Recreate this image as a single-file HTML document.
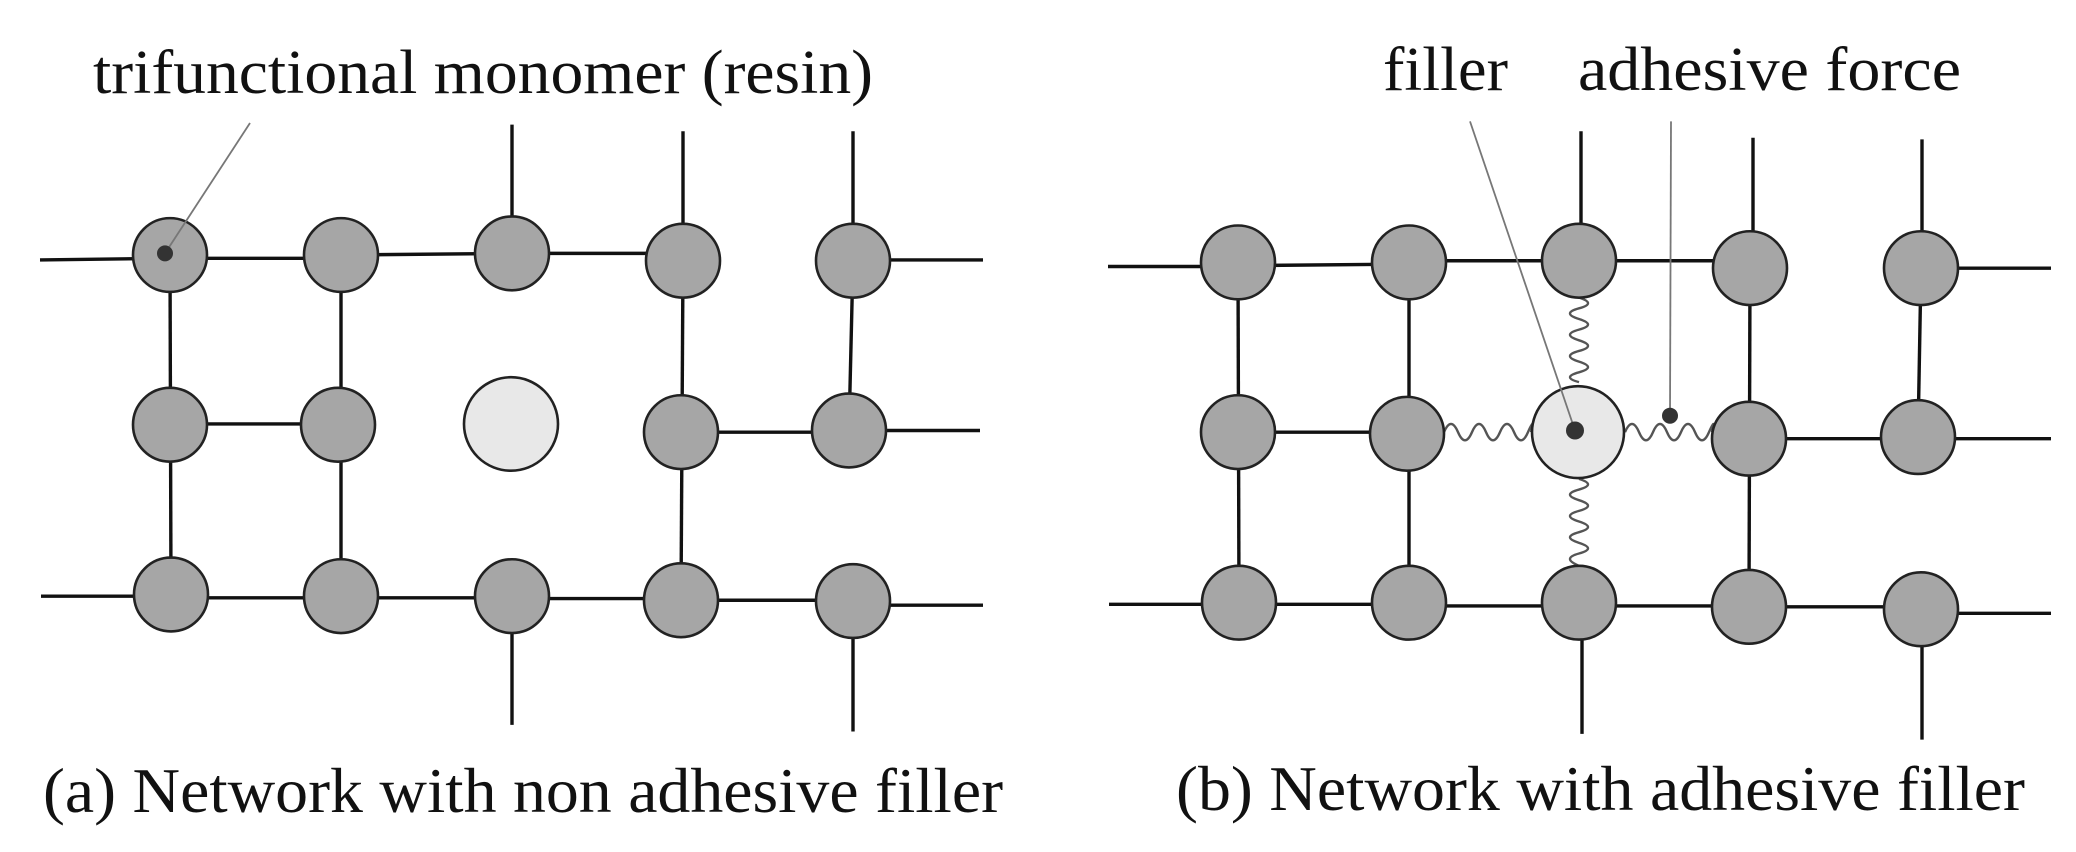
<!DOCTYPE html>
<html><head><meta charset="utf-8"><style>html,body{margin:0;padding:0;background:#fff;overflow:hidden}svg{display:block}.s *{vector-effect:non-scaling-stroke}</style></head>
<body>
<svg width="2076" height="852" viewBox="0 0 2076 852" xmlns="http://www.w3.org/2000/svg">
<g transform="scale(1,0.82)" class="s">
<g stroke="#111" stroke-width="3.4" fill="none">
<line x1="40" y1="317" x2="170" y2="315"/>
<line x1="170" y1="315" x2="341" y2="315"/>
<line x1="341" y1="311" x2="512" y2="309"/>
<line x1="512" y1="309" x2="683" y2="309"/>
<line x1="853" y1="317" x2="983" y2="317"/>
<line x1="512" y1="152" x2="512" y2="309"/>
<line x1="683" y1="160" x2="683" y2="318"/>
<line x1="853" y1="160" x2="853" y2="318"/>
<line x1="170" y1="311" x2="171" y2="725"/>
<line x1="341" y1="311" x2="341" y2="727"/>
<line x1="683" y1="318" x2="681" y2="732"/>
<line x1="853" y1="318" x2="849" y2="525"/>
<line x1="170" y1="517" x2="338" y2="517"/>
<line x1="681" y1="527" x2="849" y2="527"/>
<line x1="849" y1="525" x2="980" y2="525"/>
<line x1="41" y1="727" x2="171" y2="727"/>
<line x1="171" y1="729" x2="341" y2="729"/>
<line x1="341" y1="729" x2="512" y2="729"/>
<line x1="512" y1="730" x2="681" y2="730"/>
<line x1="681" y1="732" x2="853" y2="732"/>
<line x1="853" y1="738" x2="983" y2="738"/>
<line x1="512" y1="727" x2="512" y2="884"/>
<line x1="853" y1="733" x2="853" y2="892"/>
<line x1="1108" y1="325" x2="1238" y2="325"/>
<line x1="1238" y1="324" x2="1409" y2="322"/>
<line x1="1409" y1="318" x2="1579" y2="318"/>
<line x1="1579" y1="318" x2="1750" y2="318"/>
<line x1="1921" y1="327" x2="2051" y2="327"/>
<line x1="1581" y1="160" x2="1581" y2="318"/>
<line x1="1753" y1="168" x2="1753" y2="327"/>
<line x1="1922" y1="170" x2="1922" y2="327"/>
<line x1="1238" y1="320" x2="1239" y2="735"/>
<line x1="1409" y1="320" x2="1409" y2="735"/>
<line x1="1750" y1="327" x2="1749" y2="740"/>
<line x1="1921" y1="327" x2="1918" y2="533"/>
<line x1="1238" y1="527" x2="1407" y2="527"/>
<line x1="1749" y1="535" x2="1918" y2="535"/>
<line x1="1918" y1="535" x2="2051" y2="535"/>
<line x1="1109" y1="737" x2="1239" y2="737"/>
<line x1="1239" y1="737" x2="1409" y2="737"/>
<line x1="1409" y1="739" x2="1579" y2="739"/>
<line x1="1579" y1="739" x2="1749" y2="739"/>
<line x1="1749" y1="740" x2="1921" y2="740"/>
<line x1="1921" y1="748" x2="2051" y2="748"/>
<line x1="1582" y1="735" x2="1582" y2="895"/>
<line x1="1922" y1="743" x2="1922" y2="902"/>
</g>
<g stroke="#555" stroke-width="2.4" fill="none">
<path d="M1579 363 q 18 7 0 13 t 0 13 t 0 13 t 0 13 t 0 13 t 0 13 t 0 13 t 0 12"/>
<path d="M1579 584 q 18 7 0 13 t 0 13 t 0 13 t 0 13 t 0 13 t 0 13 t 0 13 t 0 15"/>
<path d="M1444 527 q 7 -20 14 0 t 14 0 t 14 0 t 14 0 t 14 0 t 14 0 t 3 0"/>
<path d="M1625 527 q 7 -20 14 0 t 14 0 t 14 0 t 14 0 t 14 0 t 14 0 t 3 0"/>
</g>
<g fill="#a6a6a6" stroke="#222" stroke-width="2.6">
<ellipse cx="170" cy="311" rx="37" ry="45"/>
<ellipse cx="341" cy="311" rx="37" ry="45"/>
<ellipse cx="512" cy="309" rx="37" ry="45"/>
<ellipse cx="683" cy="318" rx="37" ry="45"/>
<ellipse cx="853" cy="318" rx="37" ry="45"/>
<ellipse cx="170" cy="518" rx="37" ry="45"/>
<ellipse cx="338" cy="518" rx="37" ry="45"/>
<ellipse cx="681" cy="527" rx="37" ry="45"/>
<ellipse cx="849" cy="525" rx="37" ry="45"/>
<ellipse cx="171" cy="725" rx="37" ry="45"/>
<ellipse cx="341" cy="727" rx="37" ry="45"/>
<ellipse cx="512" cy="727" rx="37" ry="45"/>
<ellipse cx="681" cy="732" rx="37" ry="45"/>
<ellipse cx="853" cy="733" rx="37" ry="45"/>
<ellipse cx="1238" cy="320" rx="37" ry="45"/>
<ellipse cx="1409" cy="320" rx="37" ry="45"/>
<ellipse cx="1579" cy="318" rx="37" ry="45"/>
<ellipse cx="1750" cy="327" rx="37" ry="45"/>
<ellipse cx="1921" cy="327" rx="37" ry="45"/>
<ellipse cx="1238" cy="527" rx="37" ry="45"/>
<ellipse cx="1407" cy="529" rx="37" ry="45"/>
<ellipse cx="1749" cy="535" rx="37" ry="45"/>
<ellipse cx="1918" cy="533" rx="37" ry="45"/>
<ellipse cx="1239" cy="735" rx="37" ry="45"/>
<ellipse cx="1409" cy="735" rx="37" ry="45"/>
<ellipse cx="1579" cy="735" rx="37" ry="45"/>
<ellipse cx="1749" cy="740" rx="37" ry="45"/>
<ellipse cx="1921" cy="743" rx="37" ry="45"/>
</g>
<g fill="#e8e8e8" stroke="#222" stroke-width="2.6">
<ellipse cx="511" cy="517" rx="47" ry="57"/>
<ellipse cx="1578" cy="527" rx="46" ry="56"/>
</g>
<g stroke="#777" stroke-width="1.8">
<line x1="250" y1="150" x2="165" y2="309"/>
<line x1="1470" y1="148" x2="1575" y2="525"/>
<line x1="1671" y1="148" x2="1670" y2="507"/>
</g>
<g fill="#333">
<ellipse cx="165" cy="309" rx="8" ry="9.8"/>
<ellipse cx="1575" cy="525" rx="9" ry="11"/>
<ellipse cx="1670" cy="507" rx="8" ry="9.8"/>
</g>
</g>
<g font-family="Liberation Serif, serif" fill="#111">
<text x="93" y="93" font-size="62" textLength="780" lengthAdjust="spacingAndGlyphs">trifunctional monomer (resin)</text>
<text x="43" y="812" font-size="64" textLength="960" lengthAdjust="spacingAndGlyphs">(a) Network with non adhesive filler</text>
<text x="1383" y="90" font-size="62" textLength="125" lengthAdjust="spacingAndGlyphs">filler</text>
<text x="1578" y="90" font-size="62" textLength="383" lengthAdjust="spacingAndGlyphs">adhesive force</text>
<text x="1176" y="810" font-size="64" textLength="849" lengthAdjust="spacingAndGlyphs">(b) Network with adhesive filler</text>
</g>
</svg>
</body></html>
